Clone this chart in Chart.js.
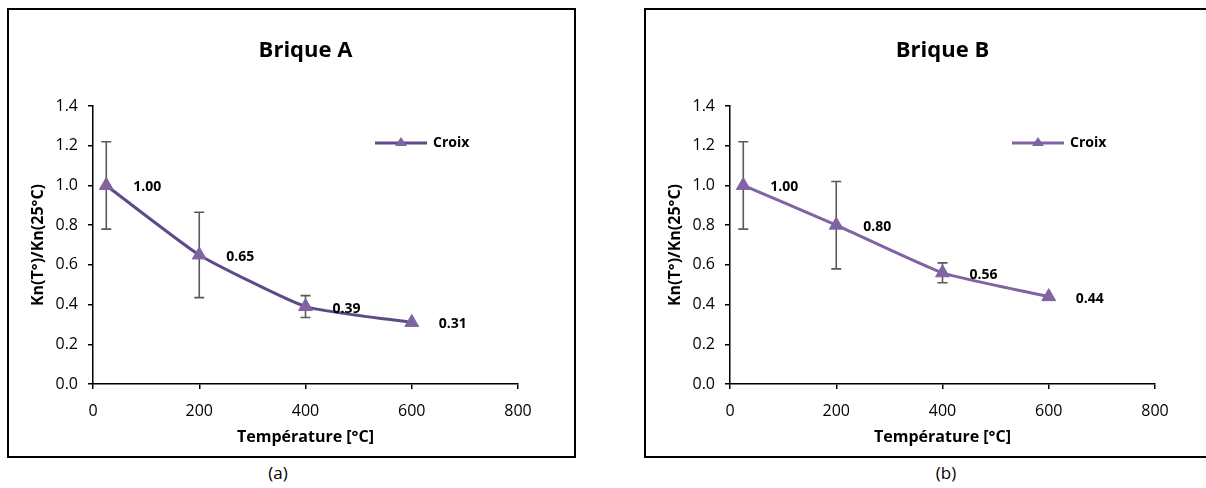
<!DOCTYPE html>
<html>
<head>
<meta charset="utf-8">
<script src="https://cdn.jsdelivr.net/npm/chart.js@4.4.1/dist/chart.umd.min.js"></script>
<style>
  body { margin: 0; background: #fff; width: 1206px; height: 488px; overflow: hidden; position: relative; font-family: "Open Sans", sans-serif; }
  .panel { position: absolute; top: 8px; width: 569px; height: 450px; border: 2px solid #000; box-sizing: border-box; }
  .panel div { position: relative; width: 100%; height: 100%; }
  .caption { position: absolute; top: 461px; font-size: 17px; color: #000; transform: translateX(-50%); }
</style>
</head>
<body>
<div class="panel" style="left:7px"><div><canvas id="chartA"></canvas></div></div>
<div class="panel" style="left:644px"><div><canvas id="chartB"></canvas></div></div>
<div class="caption" style="left:278px">(a)</div>
<div class="caption" style="left:946px">(b)</div>
<script>
// Data
const temperatures = [25, 200, 400, 600];
const briqueA = [1.00, 0.65, 0.39, 0.31];
const briqueB = [1.00, 0.80, 0.56, 0.44];
const errA = [0.22, 0.215, 0.055, 0];
const errB = [0.22, 0.22, 0.05, 0];
const xTicks = [0, 200, 400, 600, 800];
const yTicks = [0, 0.2, 0.4, 0.6, 0.8, 1.0, 1.2, 1.4];

const FONT = "'Open Sans', sans-serif";

// error bars drawn under the line, from the y scale
const errorBars = {
    id: "errorBars",
    beforeDatasetsDraw(chart) {
        const ctx = chart.ctx;
        const yScale = chart.scales.y;
        chart.data.datasets.forEach((ds, i) => {
            const meta = chart.getDatasetMeta(i);
            meta.data.forEach((pt, j) => {
                const e = ds.errors[j];
                if (!e) return;
                const top = yScale.getPixelForValue(ds.data[j].y + e);
                const bottom = yScale.getPixelForValue(ds.data[j].y - e);
                ctx.save();
                ctx.strokeStyle = "#595959";
                ctx.lineWidth = 1.6;
                ctx.beginPath();
                ctx.moveTo(pt.x, top);
                ctx.lineTo(pt.x, bottom);
                ctx.moveTo(pt.x - 5, top);
                ctx.lineTo(pt.x + 5, top);
                ctx.moveTo(pt.x - 5, bottom);
                ctx.lineTo(pt.x + 5, bottom);
                ctx.stroke();
                ctx.restore();
            });
        });
    }
};

// value labels to the right of each point
const valueLabels = {
    id: "valueLabels",
    afterDatasetsDraw(chart) {
        const ctx = chart.ctx;
        chart.data.datasets.forEach((ds, i) => {
            chart.getDatasetMeta(i).data.forEach((pt, j) => {
                ctx.save();
                ctx.font = "bold 14px " + FONT;
                ctx.fillStyle = "#000";
                ctx.textAlign = "center";
                ctx.textBaseline = "middle";
                ctx.fillText(ds.data[j].y.toFixed(2), pt.x + 41, pt.y + 2);
                ctx.restore();
            });
        });
    }
};

// legend inside the plot area, like Excel
const insideLegend = {
    id: "insideLegend",
    afterDraw(chart) {
        const ctx = chart.ctx;
        const area = chart.chartArea;
        const ds = chart.data.datasets[0];
        const x0 = area.left + 282, y0 = area.top + 37;
        ctx.save();
        ctx.strokeStyle = ds.borderColor;
        ctx.lineWidth = 3;
        ctx.beginPath();
        ctx.moveTo(x0, y0);
        ctx.lineTo(x0 + 52, y0);
        ctx.stroke();
        ctx.fillStyle = ds.pointBackgroundColor;
        ctx.beginPath();
        ctx.moveTo(x0 + 26, y0 - 6);
        ctx.lineTo(x0 + 32, y0 + 3);
        ctx.lineTo(x0 + 20, y0 + 3);
        ctx.closePath();
        ctx.fill();
        ctx.font = "bold 14px " + FONT;
        ctx.fillStyle = "#000";
        ctx.textBaseline = "middle";
        ctx.fillText(ds.label, x0 + 58, y0);
        ctx.restore();
    }
};

function makeChart(id, title, values, errors, lineColor) {
    const points = temperatures.map((t, i) => ({ x: t, y: values[i] }));
    return new Chart(document.getElementById(id), {
        type: "line",
        plugins: [errorBars, valueLabels, insideLegend],
        data: {
            datasets: [{
                label: "Croix",
                data: points,
                errors: errors,
                borderColor: lineColor,
                borderWidth: 3,
                tension: 0.15,
                pointStyle: "triangle",
                pointRadius: 8,
                pointBackgroundColor: "#8064a2",
                pointBorderColor: "#8064a2",
                pointBorderWidth: 1
            }]
        },
        options: {
            responsive: true,
            maintainAspectRatio: false,
            animation: false,
            layout: { padding: { left: 0, right: 56, top: 0, bottom: 0 } },
            plugins: {
                legend: { display: false },
                tooltip: { enabled: false },
                title: {
                    display: true,
                    fullSize: false,
                    text: title,
                    color: "#000",
                    font: { family: FONT, size: 22, weight: "bold", lineHeight: 1.2 },
                    padding: { top: 28, bottom: 41.6 }
                }
            },
            scales: {
                x: {
                    type: "linear",
                    min: 0,
                    max: 800,
                    afterBuildTicks: (s) => { s.ticks = xTicks.map(v => ({ value: v })); },
                    afterFit: (s) => { s.height = 72; },
                    grid: { drawOnChartArea: false, tickLength: 5, color: "#000", lineWidth: 1.5 },
                    border: { color: "#000", width: 1.5 },
                    ticks: { color: "#000", padding: 13, font: { family: FONT, size: 16 } },
                    title: {
                        display: true,
                        text: "Température [°C]",
                        color: "#000",
                        font: { family: FONT, size: 16, weight: "bold" },
                        padding: { top: 4, bottom: 9 }
                    }
                },
                y: {
                    min: 0,
                    max: 1.4,
                    afterBuildTicks: (s) => { s.ticks = yTicks.map(v => ({ value: v })); },
                    afterFit: (s) => { s.width = 84; },
                    grid: { drawOnChartArea: false, tickLength: 5, color: "#000", lineWidth: 1.5 },
                    border: { color: "#000", width: 1.5 },
                    ticks: {
                        color: "#000",
                        padding: 10,
                        font: { family: FONT, size: 16 },
                        callback: (v) => Number(v).toFixed(1)
                    },
                    title: {
                        display: true,
                        text: "Kn(T°)/Kn(25°C)",
                        color: "#000",
                        font: { family: FONT, size: 16, weight: "bold" },
                        padding: { top: 20, bottom: 0 }
                    }
                }
            }
        }
    });
}

makeChart("chartA", "Brique A", briqueA, errA, "#5e4a86");
makeChart("chartB", "Brique B", briqueB, errB, "#8064a2");
</script>
</body>
</html>
